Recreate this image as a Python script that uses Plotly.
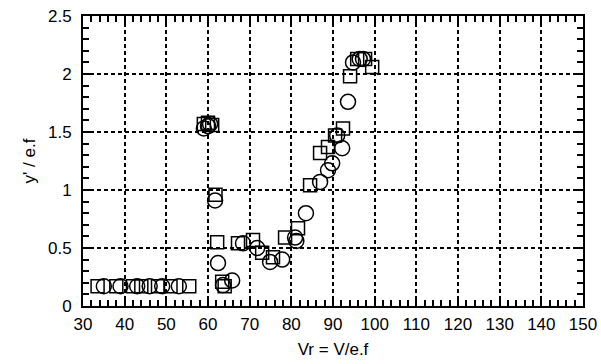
import plotly.graph_objects as go

# Circles series
circ_x = [35, 39, 43, 46, 49, 53, 59, 60, 60.5, 61.7, 62.4, 63.6, 65.8,
          68.4, 71.8, 74.9, 77.8, 80.9, 81.2, 83.5, 86.9, 88.8, 89.8, 91.0,
          92.2, 93.6, 94.8, 96.4, 97.2]
circ_y = [0.17, 0.17, 0.17, 0.17, 0.17, 0.17, 1.53, 1.55, 1.57, 0.91, 0.37, 0.18, 0.22,
          0.54, 0.50, 0.38, 0.40, 0.59, 0.56, 0.80, 1.07, 1.17, 1.23, 1.47,
          1.36, 1.76, 2.10, 2.13, 2.13]

# Squares series
sq_x = [33.5, 38, 42, 44, 48, 51, 55.5, 59, 60, 61, 61.8, 62.2, 63.4, 64.0,
        67.2, 70.8, 73.0, 75.6, 78.5, 81.6, 84.5, 86.9, 88.8, 90.5, 92.4,
        94.1, 95.8, 97.7, 99.4]
sq_y = [0.17, 0.17, 0.17, 0.17, 0.17, 0.17, 0.17, 1.57, 1.58, 1.56, 0.96, 0.55, 0.21, 0.17,
        0.54, 0.57, 0.46, 0.42, 0.59, 0.67, 1.04, 1.32, 1.37, 1.47, 1.53,
        1.98, 2.13, 2.13, 2.06]

x_ticks = list(range(30, 151, 10))
y_ticks = [0, 0.5, 1, 1.5, 2, 2.5]
y_tick_text = ["0", "0.5", "1", "1.5", "2", "2.5"]

FONT = "Liberation Sans, Arial, sans-serif"

fig = go.Figure()
fig.add_trace(go.Scatter(x=circ_x, y=circ_y, mode="markers",
                         marker=dict(symbol="circle-open", size=15, color="black",
                                     line=dict(width=1.5, color="black"))))
fig.add_trace(go.Scatter(x=sq_x, y=sq_y, mode="markers",
                         marker=dict(symbol="square-open", size=13, color="black",
                                     line=dict(width=1.5, color="black"))))

axis_common = dict(
    showline=True, linecolor="black", linewidth=2, mirror="allticks",
    ticks="inside", ticklen=7, tickwidth=1.5, tickcolor="black",
    showgrid=True, gridcolor="black", gridwidth=1.5, griddash="4px,3px",
    zeroline=False, automargin=False,
    tickfont=dict(family=FONT, size=17, color="black"),
    minor=dict(ticks="inside", ticklen=6, tickwidth=1.5, tickcolor="black", showgrid=False),
)

fig.update_layout(
    width=601, height=364,
    margin=dict(l=83, r=18, t=16, b=58),
    paper_bgcolor="white", plot_bgcolor="white",
    showlegend=False,
    font=dict(family=FONT, size=17, color="black"),
    xaxis=dict(range=[30, 150], tickvals=x_ticks, ticktext=[str(v) for v in x_ticks],
               title=dict(text="Vr = V/e.f", standoff=10, font=dict(size=17)),
               ticklabelstandoff=2, **axis_common),
    yaxis=dict(range=[0, 2.5], tickvals=y_ticks, ticktext=y_tick_text,
               title=dict(text="y' / e.f", standoff=8, font=dict(size=17)),
               ticklabelstandoff=6, **axis_common),
)
fig.update_xaxes(minor=dict(dtick=2, tick0=30))
fig.update_yaxes(minor=dict(dtick=0.1, tick0=0))

fig.write_html("out.html")
